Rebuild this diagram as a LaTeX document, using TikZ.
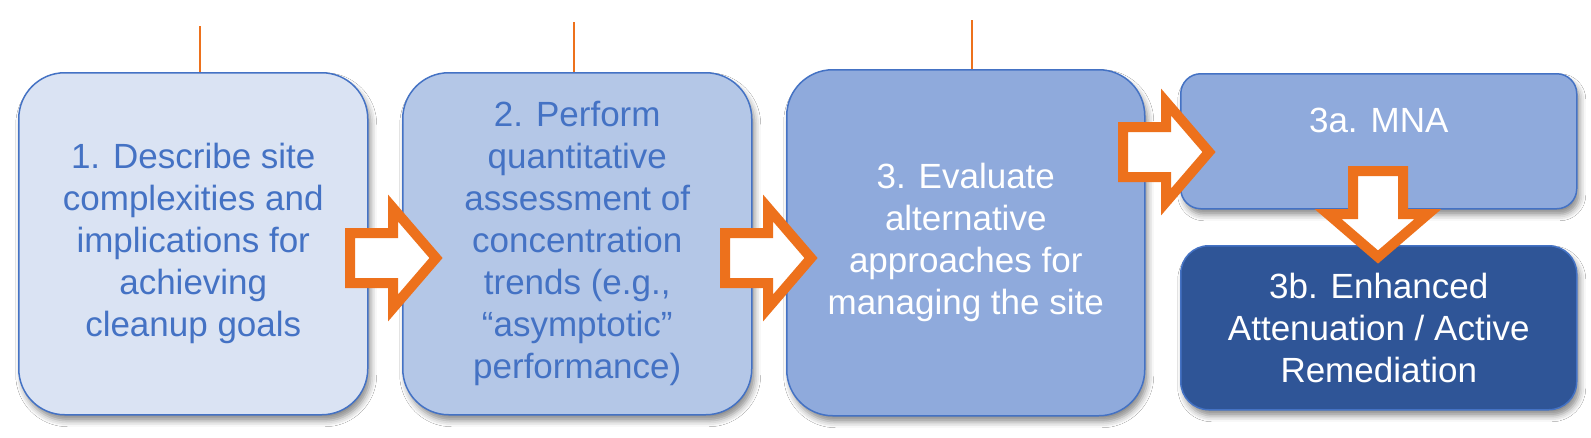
\documentclass[tikz,border=0pt]{standalone}
\usepackage{fontspec}
\setmainfont{Liberation Sans}
\usetikzlibrary{shadows.blur}
\definecolor{orng}{RGB}{237,113,28}
\definecolor{bord}{RGB}{68,114,196}
\definecolor{fillA}{RGB}{218,227,243}
\definecolor{fillB}{RGB}{180,199,231}
\definecolor{fillC}{RGB}{143,170,220}
\definecolor{fillD}{RGB}{47,85,151}
\tikzset{
  box/.style={draw=bord, line width=1.5pt, align=center, inner sep=0pt,
    anchor=north west, font=\fontsize{35pt}{42pt}\selectfont,
    blur shadow={shadow xshift=3pt, shadow yshift=-6pt, shadow blur radius=6pt, shadow opacity=45}},
  bigbox/.style={box, rounded corners=46pt, minimum width=349pt, minimum height=342pt},
  barrow/.style={draw=orng, fill=white, line width=10pt, line join=miter},
  tick/.style={draw=orng, line width=2pt},
  rblock/.pic={\path[barrow] (5,-25) -- (48,-25) -- (48,-50) -- (91,0) -- (48,50) -- (48,25) -- (5,25) -- cycle;}
}
\begin{document}
\begin{tikzpicture}[x=1pt,y=-1pt]
\useasboundingbox[fill=white] (0,0) rectangle (1591,437);
% boxes
\node[bigbox, fill=fillA, text=bord] (b1) at (18,72)
  {1. Describe site\\complexities and\\implications for\\achieving\\cleanup goals};
\node[bigbox, fill=fillB, text=bord] (b2) at (402,72)
  {2. Perform\\quantitative\\assessment of\\concentration\\trends (e.g.,\\“asymptotic”\\performance)};
\node[bigbox, fill=fillC, text=white, minimum width=358pt, minimum height=346pt] (b3) at (786,69)
  {3. Evaluate\\alternative\\approaches for\\managing the site};
\node[box, fill=fillC, text=white, rounded corners=20pt, minimum width=396pt, minimum height=135pt] (b3a) at (1180,73)
  {3a. MNA\\ \mbox{}};
\node[box, fill=fillD, text=white, rounded corners=28pt, minimum width=396pt, minimum height=164pt] (b3b) at (1180,245)
  {3b. Enhanced\\Attenuation / Active\\Remediation};
% top ticks
\coordinate (t1) at (200,26);
\coordinate (t2) at (574,22);
\coordinate (t3) at (972,20);
\draw[tick] (t1) -- (t1 |- b1.north);
\draw[tick] (t2) -- (t2 |- b2.north);
\draw[tick] (t3) -- (t3 |- b3.north);
% block arrows
\pic at (345,258) {rblock};
\pic at (720,258) {rblock};
\pic at (1118,152) {rblock};
\pic[rotate=-90] at (1378,166) {rblock};
\end{tikzpicture}
\end{document}
